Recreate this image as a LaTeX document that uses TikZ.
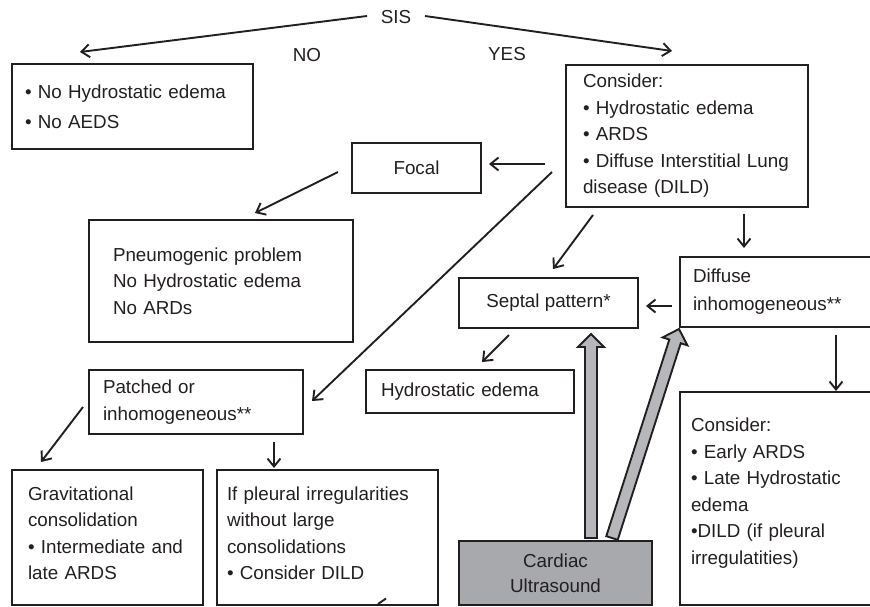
\documentclass[tikz,border=0pt]{standalone}
\usepackage{fontspec}
\setmainfont{Liberation Sans}
\usetikzlibrary{arrows.meta,calc}
\definecolor{ink}{HTML}{231F20}
\definecolor{cardgray}{HTML}{A7A9AC}
\definecolor{arrgray}{HTML}{B5B7BA}
\tikzset{
  box/.style={draw=ink, line width=1.9pt, anchor=north west, outer sep=0pt,
    inner ysep=0pt, align=left, text=ink, font=\fontsize{18.8}{26.5}\selectfont},
  cbox/.style={box, align=center, inner xsep=0pt},
  arr/.style={draw=ink, line width=1.9pt, -{Straight Barb[length=8pt,width=13pt]}},
  lbl/.style={text=ink, font=\fontsize{18.8}{22}\selectfont, inner sep=0pt},
  blockarrow/.style={fill=arrgray, draw=ink, line width=1.9pt, line join=miter},
}
\newcommand{\blockarr}[2]{%
  \path ($(#2)!13pt!(#1)$) coordinate (bhead);
  \filldraw[blockarrow] ($(#1)!6pt!90:(#2)$) -- ($(bhead)!6pt!90:(#2)$)
    -- ($(bhead)!13pt!90:(#2)$) -- (#2) -- ($(bhead)!13pt!-90:(#2)$)
    -- ($(bhead)!6pt!-90:(#2)$) -- ($(#1)!6pt!-90:(#2)$) -- cycle;}
\begin{document}
\begin{tikzpicture}[x=1pt, y=-1pt]
\useasboundingbox (0,0) rectangle (870,606);
\clip (0,0) rectangle (870,606);

% labels
\node[lbl] (sis) at (396,17) {SIS};
\node[lbl] (no) at (307,55) {NO};
\node[lbl] (yes) at (507,54) {YES};

% boxes
\node[box, font=\fontsize{18.8}{30}\selectfont, minimum width=241pt, minimum height=85pt,
  text width=215pt, inner xsep=13pt] (nobox) at (12,64)
  {• No Hydrostatic edema\\ • No AEDS};
\node[box, minimum width=242pt, minimum height=142pt, text width=208pt, inner xsep=17pt]
  (consider) at (566,65)
  {Consider:\\ • Hydrostatic edema\\ • ARDS\\ • Diffuse Interstitial Lung\\ disease (DILD)};
\node[cbox, minimum width=129pt, minimum height=50pt] (focal) at (352,143) {Focal};
\node[box, minimum width=264pt, minimum height=122pt, text width=216pt, inner xsep=24pt]
  (pneumo) at (89,220)
  {Pneumogenic problem\\ No Hydrostatic edema\\ No ARDs};
\node[cbox, minimum width=179pt, minimum height=50pt] (septal) at (459,278) {Septal pattern*};
\node[box, font=\fontsize{18.8}{28}\selectfont, minimum width=220pt, minimum height=70pt,
  text width=194pt, inner xsep=13pt] (diffuse) at (680,257)
  {Diffuse\\ inhomogeneous**};
\node[box, minimum width=208pt, minimum height=43pt, text width=178pt, inner xsep=15pt]
  (hydro) at (366,370) {Hydrostatic edema};
\node[box, font=\fontsize{18.8}{27}\selectfont, minimum width=214pt, minimum height=64pt,
  text width=186pt, inner xsep=14pt] (patched) at (89,370)
  {Patched or\\ inhomogeneous**};
\node[box, minimum width=191pt, minimum height=135pt, text width=159pt, inner xsep=16pt]
  (grav) at (12,470)
  {Gravitational\\ consolidation\\ • Intermediate and\\ late ARDS\\[-18pt]\mbox{}};
\node[box, minimum width=221pt, minimum height=135pt, text width=201pt, inner xsep=10pt]
  (pleural) at (217,470)
  {If pleural irregularities\\ without large\\ consolidations\\ • Consider DILD\\[-18pt]\mbox{}};
\node[cbox, fill=cardgray, font=\fontsize{18.8}{25}\selectfont, minimum width=193pt,
  minimum height=64pt] (cardiac) at (459,541) {Cardiac\\ Ultrasound};
\node[box, minimum width=220pt, minimum height=213pt, text width=198pt, inner xsep=11pt]
  (consider2) at (680,392)
  {Consider:\\ • Early ARDS\\ • Late Hydrostatic\\ edema\\ •DILD (if pleural\\ irregulatities)\\[-12pt]\mbox{}};

% connector end points
\coordinate (sisL) at (367,16);
\coordinate (noTip) at (80,52);
\coordinate (sisR) at (425,16);
\coordinate (yesTip) at (672,51);
\coordinate (conF) at (545,164);
\coordinate (focTip) at (489,164);
\coordinate (focS) at (338,172);
\coordinate (pneTip) at (255,213);
\coordinate (conP) at (552,172);
\coordinate (patTip) at (312,401);
\coordinate (conS) at (593,215);
\coordinate (sepTip) at (553,269);
\coordinate (conD) at (744,214);
\coordinate (difTip) at (744,248);
\coordinate (difS) at (672,306);
\coordinate (sepTip2) at (646,306);
\coordinate (sepH) at (509,335);
\coordinate (hydTip) at (482,362);
\coordinate (difC) at (836,335);
\coordinate (con2Tip) at (836,391);
\coordinate (patG) at (83,407);
\coordinate (gravTip) at (41,462);
\coordinate (patP) at (274,442);
\coordinate (pleTip) at (274,468);
\coordinate (cardA) at (591,538);
\coordinate (sepUp) at (591,334);
\coordinate (cardB) at (612,538);
\coordinate (difUp) at (679,329);
\coordinate (fragA) at (378,604);
\coordinate (fragB) at (386,598.5);

% connectors
\draw[arr] (sisL) -- (noTip);
\draw[arr] (sisR) -- (yesTip);
\draw[arr] (conF) -- (focTip);
\draw[arr] (focS) -- (pneTip);
\draw[arr] (conP) -- (patTip);
\draw[arr] (conS) -- (sepTip);
\draw[arr] (conD) -- (difTip);
\draw[arr] (difS) -- (sepTip2);
\draw[arr] (sepH) -- (hydTip);
\draw[arr] (difC) -- (con2Tip);
\draw[arr] (patG) -- (gravTip);
\draw[arr] (patP) -- (pleTip);
\draw[draw=ink, line width=1.9pt] (fragA) -- (fragB);

% block arrows from cardiac ultrasound
\blockarr{cardA}{sepUp}
\blockarr{cardB}{difUp}
\end{tikzpicture}
\end{document}
